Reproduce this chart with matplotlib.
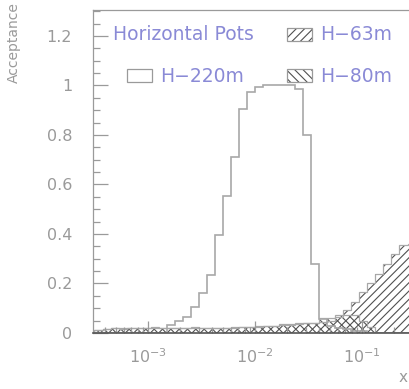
import numpy as np
import matplotlib
matplotlib.use("Agg")
import matplotlib.pyplot as plt
import matplotlib.patches as mpatches
from matplotlib.ticker import FixedLocator, LogLocator, NullFormatter

# ─────────────────────────────────────────────
# DATA (log-uniform bins, 0.075 decades wide, starting at 10^-3.5)
# ─────────────────────────────────────────────

LOG_EDGES = -3.5 + 0.075 * np.arange(43)
EDGES = 10 ** LOG_EDGES

h220 = [0, 0, 0, 0, 0, 0, 0, 0, 0,
        0.032, 0.05, 0.063, 0.106, 0.163, 0.234, 0.394, 0.555, 0.71, 0.904,
        0.975, 0.995, 1.0, 1.0, 1.0, 1.0, 0.985, 0.80, 0.28, 0.058, 0.03,
        0.02, 0.015, 0.01, 0.01, 0.0, 0.0, 0.0, 0.0, 0.0, 0.0, 0.0, 0.0]

h80 = [0.014, 0.018, 0.022, 0.02, 0.022, 0.022, 0.022, 0.024, 0.022, 0.022,
       0.022, 0.022, 0.024, 0.022, 0.022, 0.022, 0.022, 0.024, 0.026, 0.026,
       0.028, 0.03, 0.03, 0.035, 0.036, 0.04, 0.042, 0.042, 0.06, 0.06,
       0.072, 0.072, 0.072, 0.05, 0.025, 0.0, 0.0, 0.0, 0.0, 0.0, 0.0, 0.0]

h63 = [0.012, 0.016, 0.02, 0.018, 0.02, 0.02, 0.022, 0.022, 0.02, 0.02,
       0.02, 0.022, 0.022, 0.02, 0.022, 0.022, 0.022, 0.022, 0.024, 0.024,
       0.026, 0.028, 0.028, 0.032, 0.034, 0.036, 0.04, 0.04, 0.045, 0.05,
       0.065, 0.093, 0.127, 0.167, 0.2, 0.24, 0.28, 0.32, 0.356, 0.36,
       0.37, 0.38]

YTICKS = [0, 0.2, 0.4, 0.6, 0.8, 1.0, 1.2]
YTICKLABELS = ["0", "0.2", "0.4", "0.6", "0.8", "1", "1.2"]

# ─────────────────────────────────────────────
# STYLE
# ─────────────────────────────────────────────

GREY = "#9a9a9a"
LINE = "#a8a8a8"
HATCH = "#505050"
LEG_TXT = "#8a8ad6"
W, H = 409, 389

plt.rcParams["font.family"] = ["DejaVu Sans"]
plt.rcParams["hatch.linewidth"] = 0.8

fig = plt.figure(figsize=(W / 100, H / 100), dpi=100)
ax = fig.add_axes([93 / W, (H - 333) / H, 1 - 93 / W, 323 / H])

# hatched histograms
ax.stairs(h63, EDGES, fill=True, hatch="////", facecolor="none",
          edgecolor=HATCH, linewidth=0)
ax.stairs(h80, EDGES, fill=True, hatch="\\\\\\\\", facecolor="none",
          edgecolor=HATCH, linewidth=0)
ax.stairs(h63, EDGES, color=LINE, linewidth=0.9)
ax.stairs(h80, EDGES, color=LINE, linewidth=0.9)
ax.stairs(h220, EDGES, color=LINE, linewidth=1.2)

ax.set_xscale("log")
ax.set_xlim(10 ** -3.514, 10 ** -0.561)
ax.set_ylim(0, 1.305)

ax.yaxis.set_major_locator(FixedLocator(YTICKS))
ax.set_yticklabels(YTICKLABELS)
ax.yaxis.set_minor_locator(FixedLocator(np.arange(0, 1.31, 0.05)))
ax.xaxis.set_major_locator(LogLocator(base=10, numticks=10))
ax.xaxis.set_minor_locator(LogLocator(base=10, subs=np.arange(2, 10), numticks=10))
ax.xaxis.set_minor_formatter(NullFormatter())

ax.tick_params(axis="both", which="both", direction="in", colors=GREY,
               labelcolor=GREY, width=0.9)
ax.tick_params(axis="y", which="major", length=11, pad=15, labelsize=11.5)
ax.tick_params(axis="y", which="minor", length=5)
ax.tick_params(axis="x", which="major", length=9, pad=10, labelsize=11.5)
ax.tick_params(axis="x", which="minor", length=4.5)

ax.spines["right"].set_visible(False)
for side in ["left", "top"]:
    ax.spines[side].set_color(GREY)
    ax.spines[side].set_linewidth(0.9)
ax.spines["bottom"].set_color("#555555")
ax.spines["bottom"].set_linewidth(1.2)

fig.text(14 / W, 1 - 2 / H, "Acceptance", rotation=90, ha="center", va="top",
         color=GREY, fontsize=10)
fig.text(403 / W, 1 - 378 / H, "x", ha="center", va="center",
         color=GREY, fontsize=11)

# ─────────────────────────────────────────────
# LEGEND (hand placed, ROOT style)
# ─────────────────────────────────────────────

def px(x, y):
    return x / W, 1 - y / H

fig.text(*px(113, 35), "Horizontal Pots", ha="left", va="center",
         color=LEG_TXT, fontsize=13.5)

legend_items = [
    (127, 69, None, "H\u2212220m"),
    (287, 28, "////", "H\u221263m"),
    (287, 69, "\\\\\\\\", "H\u221280m"),
]
for x0, y0, hatch, label in legend_items:
    bx, by = px(x0, y0 + 13)
    fig.patches.append(mpatches.Rectangle(
        (bx, by), 25 / W, 13 / H, transform=fig.transFigure,
        facecolor="none", edgecolor=HATCH if hatch else GREY,
        hatch=hatch, linewidth=0))
    fig.patches.append(mpatches.Rectangle(
        (bx, by), 25 / W, 13 / H, transform=fig.transFigure,
        facecolor="none", edgecolor=GREY, linewidth=0.9))
    fig.text(*px(x0 + 33, y0 + 7), label, ha="left", va="center",
             color=LEG_TXT, fontsize=13.5)

fig.savefig("out.png", dpi=100)
